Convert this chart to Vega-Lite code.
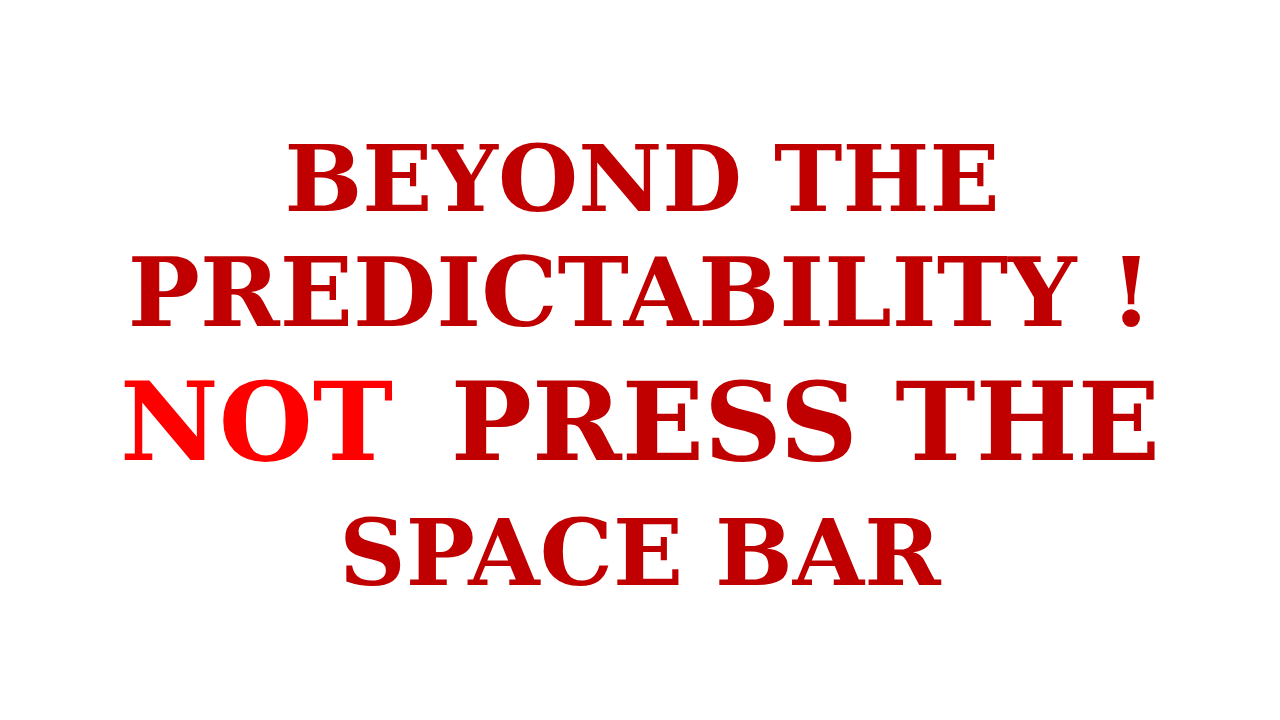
{
  "$schema": "https://vega.github.io/schema/vega-lite/v6.json",
  "width": 1280,
  "height": 720,
  "padding": 0,
  "autosize": "none",
  "background": "white",
  "config": {"view": {"stroke": null}},
  "data": {
    "values": [
      {"text": "BEYOND THE", "x": 642, "y": 183, "size": 92, "color": "#c00000", "pos": "center"},
      {"text": "PREDICTABILITY !", "x": 640, "y": 297, "size": 96, "color": "#c00000", "pos": "center"},
      {"text": "NOT", "x": 120, "y": 428, "size": 108, "color": "#ff0000", "pos": "left"},
      {"text": "PRESS THE", "x": 1160, "y": 428, "size": 108, "color": "#c00000", "pos": "right"},
      {"text": "SPACE BAR", "x": 640, "y": 557, "size": 92, "color": "#c00000", "pos": "center"}
    ]
  },
  "encoding": {
    "x": {"field": "x", "type": "quantitative", "scale": {"domain": [0, 1280], "nice": false, "zero": false}, "axis": null},
    "y": {"field": "y", "type": "quantitative", "scale": {"domain": [720, 0], "nice": false, "zero": false}, "axis": null},
    "text": {"field": "text"},
    "size": {"field": "size", "type": "quantitative", "scale": null, "legend": null},
    "color": {"field": "color", "type": "nominal", "scale": null, "legend": null}
  },
  "layer": [
    {
      "transform": [{"filter": "datum.pos == 'center'"}],
      "mark": {"type": "text", "font": "DejaVu Serif", "fontWeight": "bold", "baseline": "middle", "align": "center"}
    },
    {
      "transform": [{"filter": "datum.pos == 'left'"}],
      "mark": {"type": "text", "font": "DejaVu Serif", "fontWeight": "bold", "baseline": "middle", "align": "left"}
    },
    {
      "transform": [{"filter": "datum.pos == 'right'"}],
      "mark": {"type": "text", "font": "DejaVu Serif", "fontWeight": "bold", "baseline": "middle", "align": "right"}
    }
  ]
}
